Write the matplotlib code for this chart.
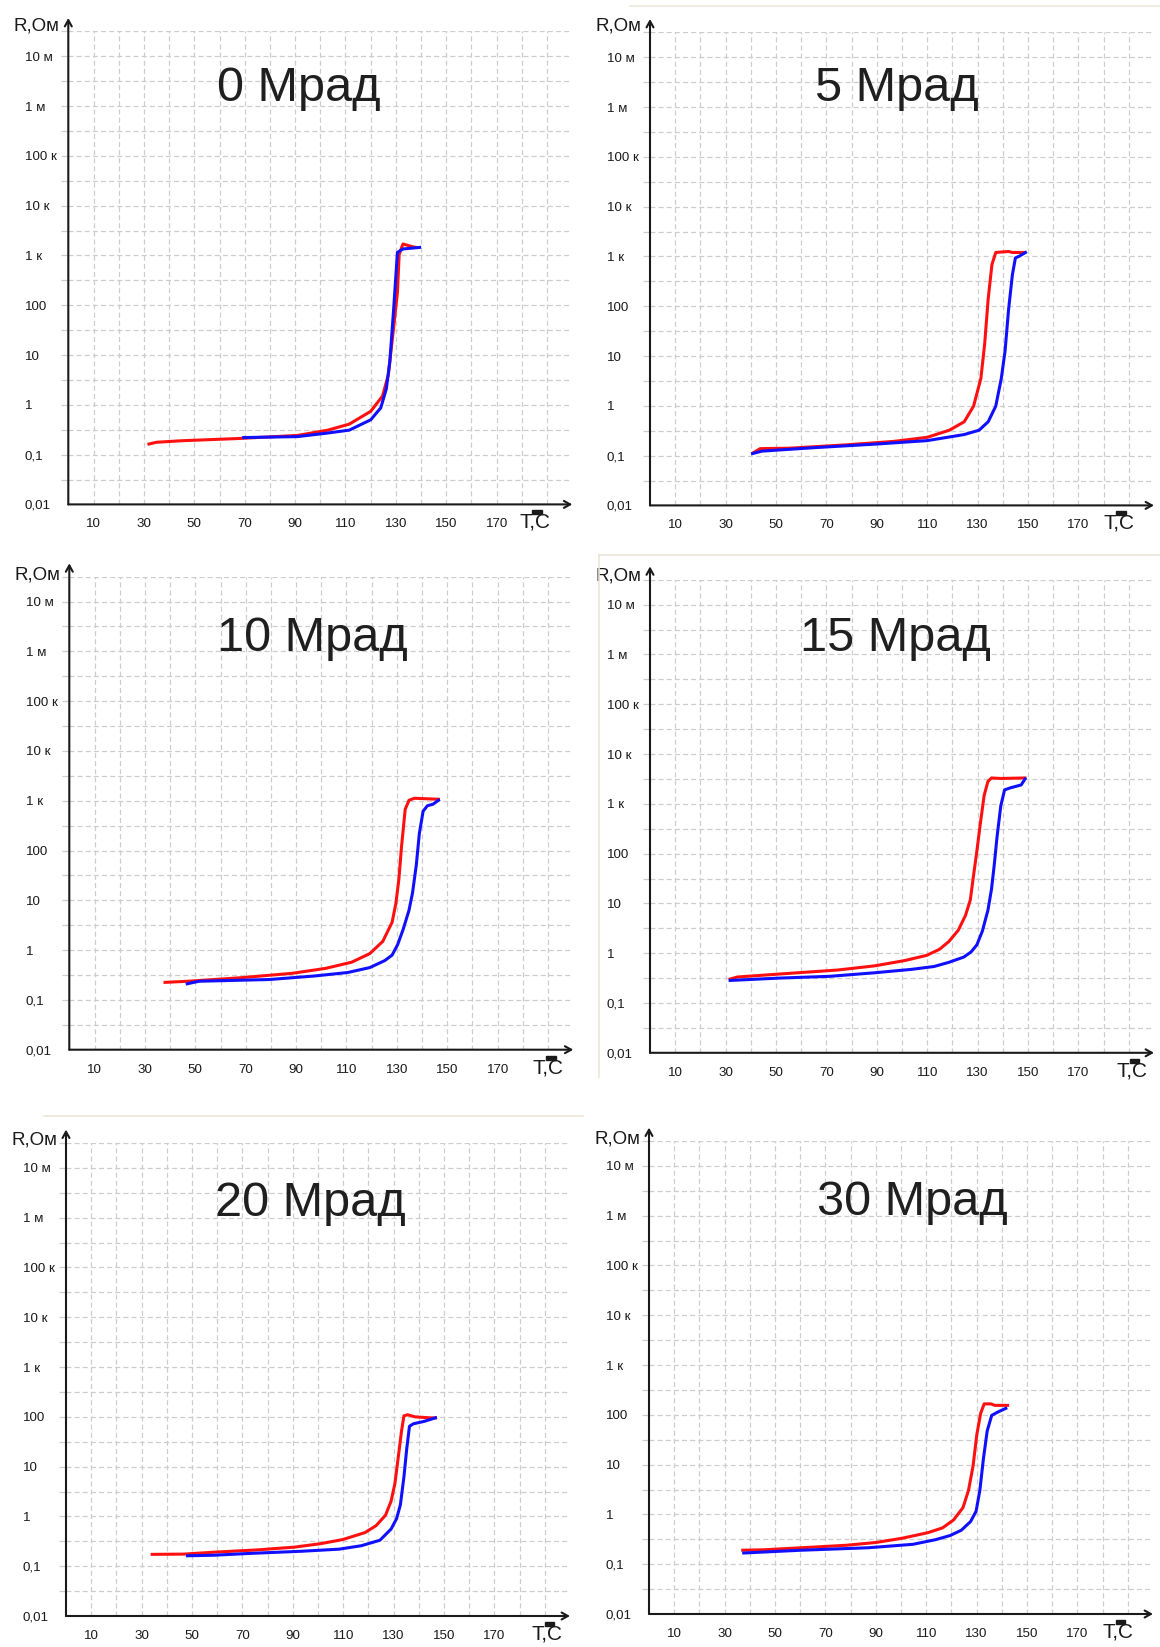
import numpy as np
import matplotlib
matplotlib.use("Agg")
import matplotlib.pyplot as plt
from matplotlib.patches import Rectangle
from matplotlib.lines import Line2D
from matplotlib.ticker import NullLocator

plt.rcParams['font.family'] = ['Liberation Sans', 'DejaVu Sans']

# ---------------- data ----------------
titles = ["0 Мрад", "5 Мрад", "10 Мрад", "15 Мрад", "20 Мрад", "30 Мрад"]
x_tick_values = [10, 30, 50, 70, 90, 110, 130, 150, 170]
y_tick_values = [0.01, 0.1, 1, 10, 100, 1e3, 1e4, 1e5, 1e6, 1e7]
y_tick_labels = ["0,01", "0,1", "1", "10", "100", "1 к", "10 к", "100 к", "1 м", "10 м"]
y_axis_label = "R,Ом"
x_axis_label = "T,C"

# 0 Mrad
t_red_0 = [32, 35, 45, 67, 91, 103, 111.5, 120, 124.7, 127, 129, 130.6, 131.3, 132.8, 136.5, 138]
r_red_0 = [0.163, 0.177, 0.19, 0.21, 0.243, 0.31, 0.41, 0.74, 1.5, 4.0, 32, 180, 1050, 1700, 1500, 1450]
t_blue_0 = [69.6, 91, 102.6, 111.5, 120, 124, 126.2, 127.6, 129.1, 130.6, 132.8, 139.4]
r_blue_0 = [0.22, 0.23, 0.27, 0.31, 0.5, 0.87, 2.1, 7.5, 83, 1150, 1350, 1450]

# 5 Mrad
t_red_5 = [41, 43.7, 55.4, 77.5, 96.7, 110, 118.8, 124.7, 128.4, 131.3, 132.8, 134.2, 135.7, 137.2, 142.3, 143.8, 148.2]
r_red_5 = [0.114, 0.138, 0.141, 0.164, 0.193, 0.233, 0.324, 0.479, 0.984, 3.55, 17.4, 141, 692, 1202, 1259, 1202, 1202]
t_blue_5 = [40.7, 44.4, 65.8, 89.3, 110, 124.7, 130.6, 134.2, 137.2, 139.4, 140.9, 142.3, 143.8, 145, 146.7, 149]
r_blue_5 = [0.110, 0.123, 0.145, 0.170, 0.200, 0.265, 0.324, 0.479, 0.984, 3.55, 12.6, 87, 427, 933, 1023, 1202]

# 10 Mrad
t_red_10 = [38, 47.1, 67.7, 88.4, 101.6, 112, 119.3, 124.4, 128.1, 129.6, 130.8, 131.8, 133.3, 134.8, 137, 146.5]
r_red_10 = [0.225, 0.237, 0.278, 0.342, 0.429, 0.571, 0.855, 1.50, 3.63, 8.71, 26.9, 115, 676, 1023, 1122, 1072]
t_blue_10 = [46.8, 51.5, 79.5, 97.2, 110.5, 119.3, 125.2, 128.1, 130.3, 132.5, 134.8, 136.2, 137.7, 138.9, 140.4, 142.1, 144.3, 146.5]
r_blue_10 = [0.211, 0.237, 0.257, 0.302, 0.355, 0.447, 0.617, 0.794, 1.29, 2.63, 6.31, 14.1, 51.3, 219, 617, 794, 851, 1023]

# 15 Mrad
t_red_15 = [31.8, 34.7, 52.4, 74.5, 89.2, 101, 109.8, 114.9, 118.6, 122.3, 125.2, 127.1, 128.2, 129.7, 131.1, 132.6, 134.1, 135.5, 139.2, 148.8]
r_red_15 = [0.303, 0.333, 0.385, 0.460, 0.558, 0.711, 0.906, 1.20, 1.72, 2.88, 5.75, 11.7, 30.9, 112, 407, 1479, 2818, 3311, 3236, 3311]
t_blue_15 = [31.8, 50.9, 71.5, 89.2, 103.9, 112.7, 118.6, 124.5, 127.4, 129.7, 131.9, 134.1, 135.5, 136.6, 137.7, 139.2, 140.7, 142.9, 147.3, 148.8]
r_blue_15 = [0.284, 0.316, 0.344, 0.405, 0.475, 0.541, 0.656, 0.836, 1.06, 1.47, 2.79, 7.33, 19.1, 58.9, 214, 912, 1905, 2089, 2399, 3162]

# 20 Mrad
t_red_20 = [34.2, 46.7, 58.5, 76.1, 90.8, 101.1, 109.9, 118.7, 123.1, 126.8, 129, 130.5, 131.9, 133.1, 134.1, 135.6, 138.5, 144.4, 146.6]
r_red_20 = [0.173, 0.175, 0.191, 0.213, 0.242, 0.284, 0.344, 0.475, 0.656, 1.06, 2.02, 4.52, 16.2, 50.1, 105, 110, 100, 95.5, 95.5]
t_blue_20 = [48.2, 58.5, 73.2, 93.7, 108.4, 117.2, 124.6, 129, 131.2, 132.7, 134.1, 135.2, 136.3, 137.8, 142.2, 146.6]
r_blue_20 = [0.162, 0.166, 0.181, 0.200, 0.220, 0.258, 0.333, 0.558, 0.906, 1.72, 6.24, 22.6, 64.6, 72.4, 81.3, 95.5]

# 30 Mrad
t_red_30 = [37.2, 45.7, 60.5, 78.2, 90, 100.3, 110.6, 116.5, 120.9, 124.6, 126.8, 128.6, 130.1, 131.6, 133, 135.7, 137.2, 142.3]
r_red_30 = [0.191, 0.195, 0.214, 0.240, 0.273, 0.331, 0.429, 0.537, 0.778, 1.37, 3.06, 9.46, 40.4, 107, 166, 166, 155, 155]
t_blue_30 = [37.6, 60.5, 87, 104.7, 113.6, 119.5, 123.9, 127.6, 129.8, 131.3, 132.7, 134.2, 136, 138.6, 141.6]
r_blue_30 = [0.168, 0.191, 0.214, 0.251, 0.310, 0.377, 0.480, 0.718, 1.16, 3.06, 13.1, 47.5, 97.7, 115, 135]

red_t = [t_red_0, t_red_5, t_red_10, t_red_15, t_red_20, t_red_30]
red_r = [r_red_0, r_red_5, r_red_10, r_red_15, r_red_20, r_red_30]
blue_t = [t_blue_0, t_blue_5, t_blue_10, t_blue_15, t_blue_20, t_blue_30]
blue_r = [r_blue_0, r_blue_5, r_blue_10, r_blue_15, r_blue_20, r_blue_30]

# ---------------- layout ----------------
W, H = 1160, 1647
fig = plt.figure(figsize=(W / 100, H / 100), dpi=100)
fig.patch.set_facecolor("white")

AX_W, AX_H = 504, 473          # px : 0..200 C, 0.01..10^7.5 Ohm
panel_origin = [(68.3, 504.4), (650.0, 505.4),
                (69.3, 1049.7), (650.0, 1052.8),
                (66.0, 1616.0), (649.0, 1614.0)]
title_pos = [(0.458, 0.852), (0.490, 0.854), (0.482, 0.842),
             (0.486, 0.849), (0.485, 0.846), (0.522, 0.844)]
tc_left = [0.895, 0.899, 0.920, 0.926, 0.924, 0.900]
rlab_up = [5, 6, 1.3, 4, 2.7, 2]

INK = "#1a1a1a"
GRID = "#cdcdcd"

# faint separator lines in the source scan
sep = "#ece8d6"
fig.add_artist(Line2D([630 / W, 1.0], [1 - 6 / H, 1 - 6 / H], color=sep, lw=1.2))
fig.add_artist(Line2D([599 / W, 1.0], [1 - 555 / H, 1 - 555 / H], color=sep, lw=1.2))
fig.add_artist(Line2D([599 / W, 599 / W], [1 - 555 / H, 1 - 1077 / H], color=sep, lw=1.2))
fig.add_artist(Line2D([44 / W, 583 / W], [1 - 1116 / H, 1 - 1116 / H], color=sep, lw=1.2))

for i in range(6):
    x0, yb = panel_origin[i]
    ax = fig.add_axes([x0 / W, 1 - yb / H, AX_W / W, AX_H / H])
    ax.set_facecolor("none")
    ax.set_yscale("log")
    ax.set_xlim(0, 200)
    ax.set_ylim(1e-2, 10 ** 7.5)
    for s in ax.spines.values():
        s.set_visible(False)
    ax.set_xticks(np.arange(10, 200, 10))
    ax.set_yticks(10 ** (np.arange(-3, 16) / 2.0))
    ax.yaxis.set_minor_locator(NullLocator())
    ax.xaxis.set_minor_locator(NullLocator())
    ax.tick_params(axis="x", length=0, labelbottom=False)
    ax.tick_params(axis="y", length=5, width=0.9, color=GRID, labelleft=False)
    ax.grid(True, color=GRID, lw=0.9, ls=(0, (4, 2.5)))
    ax.set_axisbelow(True)

    # axes with arrows
    ax.annotate("", xy=(1.0, 0), xytext=(0, 0), xycoords="axes fraction",
                arrowprops=dict(arrowstyle="->,head_length=0.45,head_width=0.25",
                                lw=1.5, color=INK, shrinkA=0, shrinkB=0),
                annotation_clip=False)
    ax.annotate("", xy=(0, 1 + 13.4 / AX_H), xytext=(0, 0), xycoords="axes fraction",
                arrowprops=dict(arrowstyle="->,head_length=0.45,head_width=0.25",
                                lw=1.5, color=INK, shrinkA=0, shrinkB=0),
                annotation_clip=False)

    # curves
    ax.plot(red_t[i], red_r[i], color="#ff1010", lw=2.2, clip_on=False)
    ax.plot(blue_t[i], blue_r[i], color="#1010ff", lw=2.2, clip_on=False)

    # tick labels
    for v, lab in zip(y_tick_values, y_tick_labels):
        ax.text(-0.086, v, lab, transform=ax.get_yaxis_transform(), ha="left",
                va="center_baseline", fontsize=9.6, color=INK)
    for t in x_tick_values:
        ax.text(t, -20 / AX_H, str(t), transform=ax.get_xaxis_transform(),
                ha="center", va="center", fontsize=9.6, color=INK)

    # axis labels
    ax.text(-0.108, 1 + rlab_up[i] / AX_H, y_axis_label, transform=ax.transAxes,
            ha="left", va="center", fontsize=13.5, color=INK)
    ax.text(tc_left[i], -18 / AX_H, x_axis_label, transform=ax.transAxes,
            ha="left", va="center", fontsize=15, color=INK)
    ax.add_patch(Rectangle((tc_left[i] + 0.026, -10 / AX_H), 0.019, 4 / AX_H,
                           transform=ax.transAxes, color=INK, clip_on=False))

    # panel title
    ax.text(title_pos[i][0], title_pos[i][1], titles[i], transform=ax.transAxes,
            ha="center", va="baseline", fontsize=35, color="#1f1f1f")

fig.savefig("out.png", dpi=100, facecolor="white")
